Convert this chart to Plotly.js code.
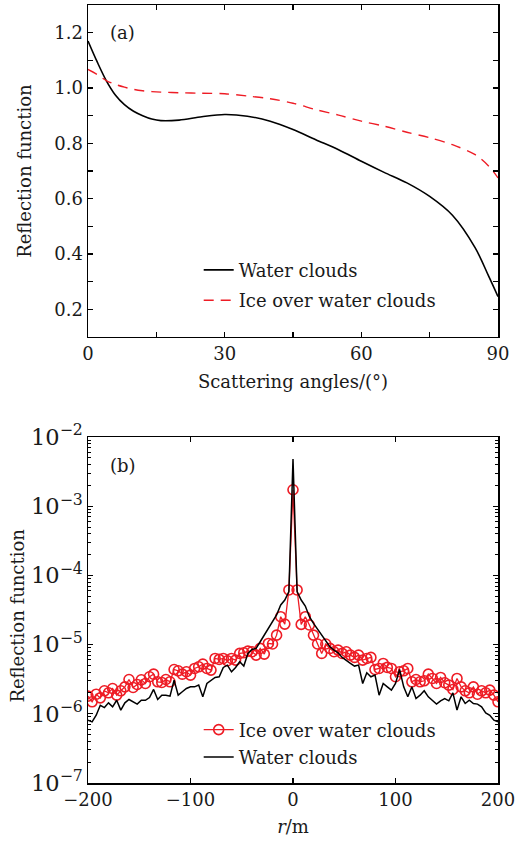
<!DOCTYPE html>
<html>
<head>
<meta charset="utf-8">
<script src="https://cdn.plot.ly/plotly-3.0.1.min.js"></script>
<style>
html,body{margin:0;padding:0;background:#fff;}
#chart{width:520px;height:841px;}
</style>
</head>
<body>
<div id="chart"></div>
<script>
// ---- Panel (a): reflection function vs scattering angle ----
var angles = [0, 2, 4, 6, 8, 10, 12, 14, 16, 20, 25, 30, 35, 40, 45, 50, 55, 60, 65, 70, 75, 80, 85, 88, 90];
var waterA = [1.170, 1.095, 1.027, 0.975, 0.940, 0.916, 0.900, 0.888, 0.882, 0.884, 0.896, 0.904, 0.898, 0.880, 0.850, 0.813, 0.777, 0.735, 0.695, 0.657, 0.608, 0.540, 0.422, 0.318, 0.246];
var iceA   = [1.067, 1.049, 1.027, 1.013, 1.003, 0.995, 0.990, 0.987, 0.985, 0.983, 0.981, 0.979, 0.971, 0.961, 0.945, 0.922, 0.902, 0.880, 0.862, 0.840, 0.820, 0.795, 0.759, 0.717, 0.675];

// ---- Panel (b): reflection function vs r ----
var rPos = [-200,-196,-192,-188,-184,-180,-176,-172,-168,-164,
            -160,-156,-152,-148,-144,-140,-136,-132,-128,-124,
            -120,-116,-112,-108,-104,-100,-96,-92,-88,-84,
            -80,-76,-72,-68,-64,-60,-56,-52,-48,-44,
            -40,-36,-32,-28,-24,-20,-16,-12,-8,-4,
            0,
            4,8,12,16,20,24,28,32,36,40,
            44,48,52,56,60,64,68,72,76,80,
            84,88,92,96,100,104,108,112,116,120,
            124,128,132,136,140,144,148,152,156,160,
            164,168,172,176,180,184,188,192,196,200];
var iceB = [1.80e-6,1.49e-6,1.92e-6,1.70e-6,2.15e-6,2.01e-6,2.32e-6,1.86e-6,2.15e-6,2.45e-6,
            3.13e-6,2.40e-6,2.65e-6,3.10e-6,2.74e-6,3.43e-6,3.74e-6,2.90e-6,2.84e-6,3.13e-6,
            2.90e-6,4.37e-6,4.18e-6,3.74e-6,4.05e-6,3.62e-6,4.52e-6,4.78e-6,5.23e-6,4.52e-6,
            4.28e-6,6.31e-6,6.11e-6,6.31e-6,5.84e-6,6.31e-6,5.97e-6,7.46e-6,7.62e-6,8.06e-6,
            7.88e-6,7.05e-6,8.81e-6,7.29e-6,1.04e-5,1.02e-5,1.37e-5,2.53e-5,1.98e-5,6.16e-5,
            1.73e-3,
            6.16e-5,1.96e-5,2.53e-5,1.92e-5,1.37e-5,1.02e-5,7.46e-6,1.02e-5,8.81e-6,7.88e-6,
            8.33e-6,7.46e-6,7.88e-6,7.05e-6,6.53e-6,7.05e-6,5.97e-6,6.31e-6,6.53e-6,4.37e-6,
            4.52e-6,5.34e-6,4.68e-6,4.52e-6,3.43e-6,4.05e-6,4.18e-6,4.52e-6,2.90e-6,3.13e-6,
            2.90e-6,3.00e-6,3.74e-6,3.24e-6,2.74e-6,3.35e-6,2.81e-6,2.60e-6,2.25e-6,3.24e-6,
            2.45e-6,2.15e-6,2.01e-6,2.45e-6,1.92e-6,2.15e-6,2.01e-6,2.20e-6,1.86e-6,1.49e-6];
var waterB = [8.08e-7,7.64e-7,9.54e-7,1.33e-6,1.23e-6,1.44e-6,1.26e-6,1.57e-6,1.13e-6,1.44e-6,
              1.61e-6,1.49e-6,1.38e-6,1.57e-6,1.57e-6,1.72e-6,2.25e-6,1.61e-6,1.86e-6,1.86e-6,
              1.80e-6,3.07e-6,1.86e-6,2.08e-6,2.32e-6,2.45e-6,2.45e-6,2.60e-6,1.76e-6,2.74e-6,
              3.07e-6,3.35e-6,3.43e-6,4.68e-6,5.05e-6,4.05e-6,4.68e-6,5.65e-6,4.89e-6,7.46e-6,
              8.52e-6,8.81e-6,1.10e-5,1.37e-5,1.66e-5,2.14e-5,2.68e-5,3.74e-5,4.41e-5,5.83e-5,
              4.80e-3,
              5.83e-5,4.41e-5,3.61e-5,2.53e-5,2.03e-5,1.66e-5,1.37e-5,1.10e-5,9.31e-6,8.33e-6,
              7.62e-6,6.53e-6,5.84e-6,5.34e-6,4.89e-6,5.05e-6,2.74e-6,3.91e-6,3.43e-6,3.62e-6,
              1.86e-6,2.74e-6,2.45e-6,2.20e-6,2.74e-6,4.37e-6,2.45e-6,1.76e-6,2.45e-6,1.66e-6,
              1.86e-6,2.15e-6,1.76e-6,1.57e-6,1.38e-6,1.54e-6,1.66e-6,1.54e-6,2.01e-6,1.13e-6,
              1.76e-6,1.41e-6,1.57e-6,1.41e-6,1.38e-6,1.26e-6,1.03e-6,9.54e-7,8.08e-7,7.64e-7];

var nameWater = 'Water clouds';
var nameIce = 'Ice over water clouds';
var yTitle = 'Reflection function';

var RED = '#ee1c25';
var FONT = 'DejaVu Serif, Liberation Serif, serif';
var TXT = '#1a1a1a';

var traces = [
  {x: angles, y: waterA, xaxis: 'x', yaxis: 'y', mode: 'lines', name: nameWater,
   line: {color: '#000', width: 1.6, shape: 'spline', smoothing: 0.9}, legend: 'legend', legendgroup: 'a1'},
  {x: angles, y: iceA, xaxis: 'x', yaxis: 'y', mode: 'lines', name: nameIce,
   line: {color: RED, width: 1.4, dash: '10px,7px', shape: 'spline', smoothing: 0.9}, legend: 'legend', legendgroup: 'a2'},
  {x: rPos, y: iceB, xaxis: 'x2', yaxis: 'y2', mode: 'lines+markers', name: nameIce,
   line: {color: RED, width: 1.3},
   marker: {symbol: 'circle-open', size: 10, color: RED, line: {width: 1.6, color: RED}}, legend: 'legend2', legendgroup: 'b1'},
  {x: rPos, y: waterB, xaxis: 'x2', yaxis: 'y2', mode: 'lines', name: nameWater,
   line: {color: '#000', width: 1.5}, legend: 'legend2', legendgroup: 'b2'}
];

var TF = {family: FONT, size: 18, color: TXT};
var axBase = {
  showline: true, linecolor: '#000', linewidth: 1.5, mirror: 'ticks',
  ticks: 'inside', ticklen: 5, tickwidth: 1.3, tickcolor: '#000',
  showgrid: false, zeroline: false,
  tickfont: {family: FONT, size: 18, color: TXT}
};
function ax(extra) { return Object.assign(JSON.parse(JSON.stringify(axBase)), extra); }

var layout = {
  width: 520, height: 841,
  margin: {l: 88, r: 22, t: 5, b: 58},
  paper_bgcolor: '#fff', plot_bgcolor: '#fff',
  font: {family: FONT, color: TXT},
  showlegend: true,
  xaxis: ax({domain: [0, 1], anchor: 'y', range: [0, 90], tick0: 0, dtick: 30,
    minor: {dtick: 15, ticks: 'inside', ticklen: 5, tickwidth: 1.3, tickcolor: '#000'},
    title: {text: 'Scattering angles/(°)', standoff: 12, font: TF}}),
  yaxis: ax({domain: [0.5733, 1], anchor: 'x', range: [0.1, 1.3], tick0: 0.2, dtick: 0.2, tickformat: '.1f',
    minor: {dtick: 0.1, ticks: 'inside', ticklen: 5, tickwidth: 1.3, tickcolor: '#000'}}),
  xaxis2: ax({domain: [0, 1], anchor: 'y2', range: [-200, 200], tick0: 0, dtick: 100,
    title: {text: '<i>r</i>/m', standoff: 11, font: TF}}),
  yaxis2: ax({domain: [0, 0.4447], anchor: 'x2', type: 'log', range: [-7, -2], dtick: 1,
    exponentformat: 'power', showexponent: 'all',
    minor: {ticks: 'inside', ticklen: 3, tickwidth: 1, tickcolor: '#000', dtick: 'D1'}}),
  legend: {x: 0.27, y: 0.683, xanchor: 'left', yanchor: 'top', bgcolor: 'rgba(0,0,0,0)',
    font: {family: FONT, size: 18, color: TXT}, tracegroupgap: 4},
  legend2: {x: 0.27, y: 0.092, xanchor: 'left', yanchor: 'top', bgcolor: 'rgba(0,0,0,0)',
    font: {family: FONT, size: 18, color: TXT}, tracegroupgap: 1},
  annotations: [
    {text: '(a)', xref: 'x domain', yref: 'y domain', x: 0.049, y: 0.916, xanchor: 'left', yanchor: 'middle',
     showarrow: false, font: {family: FONT, size: 18, color: TXT}},
    {text: '(b)', xref: 'x2 domain', yref: 'y2 domain', x: 0.049, y: 0.919, xanchor: 'left', yanchor: 'middle',
     showarrow: false, font: {family: FONT, size: 18, color: TXT}},
    {text: yTitle, xref: 'paper', yref: 'y domain', x: -0.154, y: 0.5, xanchor: 'center', yanchor: 'middle',
     textangle: -90, showarrow: false, font: TF},
    {text: yTitle, xref: 'paper', yref: 'y2 domain', x: -0.173, y: 0.484, xanchor: 'center', yanchor: 'middle',
     textangle: -90, showarrow: false, font: TF}
  ]
};

Plotly.newPlot('chart', traces, layout, {displayModeBar: false, staticPlot: true});
</script>
</body>
</html>
